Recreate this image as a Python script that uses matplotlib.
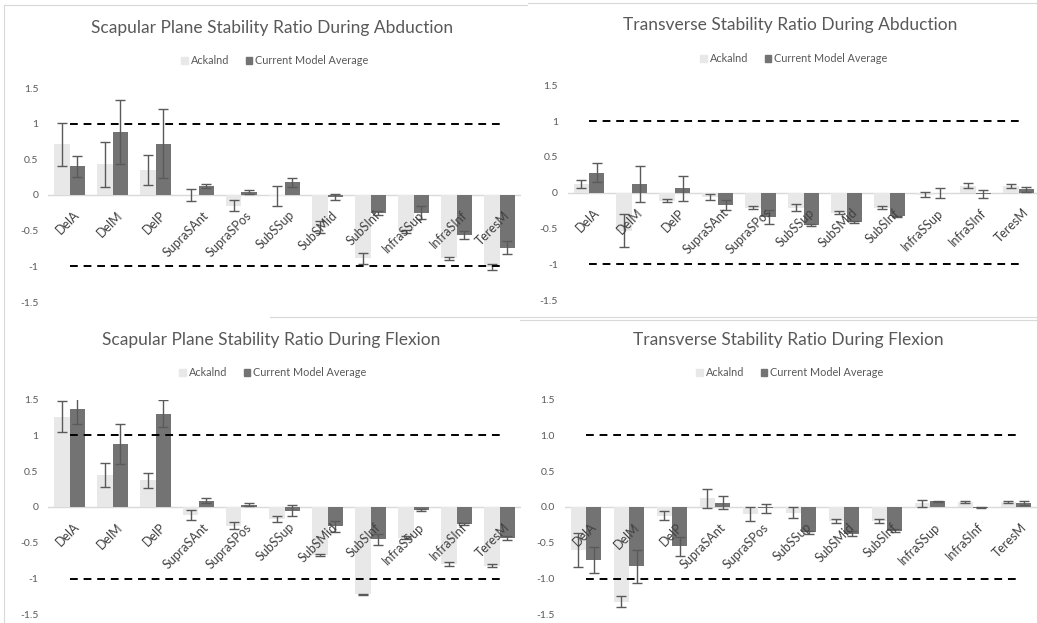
import matplotlib
matplotlib.use("Agg")
import matplotlib.pyplot as plt
from matplotlib.patches import Patch
from matplotlib.lines import Line2D
import numpy as np

plt.rcParams['font.family'] = ['Lato', 'DejaVu Sans']
plt.rcParams['axes.unicode_minus'] = False

muscles = ['DelA', 'DelM', 'DelP', 'SupraSAnt', 'SupraSPos', 'SubSSup',
           'SubSMid', 'SubSInf', 'InfraSSup', 'InfraSInf', 'TeresM']

# scapular plane, abduction
scap_abd_ack = [0.71, 0.43, 0.35, 0.0, -0.15, -0.02, -0.45, -0.89, -0.51, -0.89, -1.01]
scap_abd_ack_err = [0.30, 0.32, 0.21, 0.08, 0.075, 0.14, 0.08, 0.08, 0.02, 0.02, 0.04]
scap_abd_model = [0.40, 0.88, 0.72, 0.13, 0.04, 0.18, -0.03, -0.25, -0.25, -0.56, -0.74]
scap_abd_model_err = [0.15, 0.45, 0.48, 0.03, 0.03, 0.065, 0.04, 0.03, 0.09, 0.05, 0.09]

# transverse, abduction
trans_abd_ack = [0.12, -0.53, -0.11, -0.06, -0.21, -0.21, -0.28, -0.21, -0.03, 0.10, 0.09]
trans_abd_ack_err = [0.055, 0.23, 0.02, 0.04, 0.02, 0.05, 0.02, 0.02, 0.035, 0.03, 0.03]
trans_abd_model = [0.28, 0.12, 0.06, -0.17, -0.34, -0.45, -0.41, -0.33, -0.01, -0.02, 0.05]
trans_abd_model_err = [0.13, 0.25, 0.18, 0.07, 0.10, 0.01, 0.01, 0.01, 0.07, 0.06, 0.035]

# scapular plane, flexion
scap_flex_ack = [1.26, 0.45, 0.37, -0.11, -0.26, -0.17, -0.67, -1.22, -0.43, -0.80, -0.82]
scap_flex_ack_err = [0.22, 0.17, 0.10, 0.07, 0.05, 0.04, 0.02, 0.01, 0.02, 0.03, 0.02]
scap_flex_model = [1.37, 0.88, 1.30, 0.09, 0.03, -0.05, -0.27, -0.45, -0.04, -0.24, -0.43]
scap_flex_model_err = [0.21, 0.28, 0.19, 0.03, 0.02, 0.08, 0.08, 0.08, 0.01, 0.01, 0.03]

# transverse, flexion
trans_flex_ack = [-0.60, -1.32, -0.12, 0.12, -0.10, -0.08, -0.20, -0.20, 0.05, 0.07, 0.07]
trans_flex_ack_err = [0.24, 0.08, 0.06, 0.13, 0.10, 0.08, 0.03, 0.03, 0.05, 0.02, 0.02]
trans_flex_model = [-0.74, -0.83, -0.55, 0.06, -0.02, -0.35, -0.37, -0.33, 0.08, -0.01, 0.06]
trans_flex_model_err = [0.18, 0.23, 0.13, 0.09, 0.06, 0.02, 0.03, 0.02, 0.01, 0.005, 0.03]

limits = [1, -1]
ticks = [1.5, 1, 0.5, 0, -0.5, -1, -1.5]

ACK_COLOR = '#e8e8e8'
MODEL_COLOR = '#737373'
TEXT_COLOR = '#595959'

W, H = 1037, 623
fig = plt.figure(figsize=(W / 100, H / 100), dpi=100)
fig.patch.set_facecolor('white')


def fx(px):
    return px / W


def fy(py):
    return 1 - py / H


def draw_panel(rect, title, title_xy, legend_xy, ack, ack_err, model, model_err,
               tick_fmt):
    left, top, right, bottom = rect
    ax = fig.add_axes([fx(left), fy(bottom), fx(right - left), fy(top) - fy(bottom)])
    x = np.arange(len(muscles))
    width = 0.36
    err_kw = dict(ecolor='#5a5a5a', elinewidth=1.0, capsize=3.5, capthick=1.0)
    ax.bar(x - width / 2, ack, width, color=ACK_COLOR, yerr=ack_err,
           error_kw=err_kw, zorder=2)
    ax.bar(x + width / 2, model, width, color=MODEL_COLOR, yerr=model_err,
           error_kw=err_kw, zorder=2)
    for lim in limits:
        ax.plot([x[0], x[-1]], [lim, lim], color='black', lw=1.4,
                dashes=(4, 3), zorder=3)
    ax.axhline(0, color='#d9d9d9', lw=1.0, zorder=1)

    ax.set_xlim(-0.5, len(muscles) - 0.5)
    ax.set_ylim(-1.5, 1.5)
    ax.set_yticks(ticks)
    ax.set_yticklabels([tick_fmt(t) for t in ticks])
    ax.tick_params(axis='y', length=0, pad=7, labelsize=7.5, labelcolor=TEXT_COLOR)
    ax.set_xticks([])
    for s in ax.spines.values():
        s.set_visible(False)
    ax.patch.set_alpha(0)

    for i, name in enumerate(muscles):
        ax.annotate(name, xy=(i, 0), xytext=(3, -10), textcoords='offset points',
                    rotation=45, ha='right', va='top', rotation_mode='anchor',
                    fontsize=9, color='#404040', zorder=4)

    fig.text(fx(title_xy[0]), fy(title_xy[1]), title, ha='center', va='center',
             fontsize=12.5, color=TEXT_COLOR)
    handles = [Patch(color=ACK_COLOR, label='Ackalnd'),
               Patch(color=MODEL_COLOR, label='Current Model Average')]
    fig.legend(handles=handles, loc='center', ncol=2, frameon=False,
               bbox_to_anchor=(fx(legend_xy[0]), fy(legend_xy[1])),
               fontsize=7.8, labelcolor=TEXT_COLOR, handlelength=0.6,
               handleheight=0.6, handletextpad=0.3, columnspacing=1.5)


def plain(t):
    return ('%g' % t)


def one_dec(t):
    return '%.1f' % t


draw_panel((48, 88, 521, 302), 'Scapular Plane Stability Ratio During Abduction',
           (272, 28), (275, 61), scap_abd_ack, scap_abd_ack_err,
           scap_abd_model, scap_abd_model_err, plain)
draw_panel((567.5, 85.5, 1040, 300), 'Transverse Stability Ratio During Abduction',
           (790, 25), (794, 59), trans_abd_ack, trans_abd_ack_err,
           trans_abd_model, trans_abd_model_err, plain)
draw_panel((48, 399.5, 521, 614.5), 'Scapular Plane Stability Ratio During Flexion',
           (271, 340), (273, 373), scap_flex_ack, scap_flex_ack_err,
           scap_flex_model, scap_flex_model_err, plain)
draw_panel((564.5, 399.5, 1037.5, 614.5), 'Transverse Stability Ratio During Flexion',
           (788, 340), (790, 373), trans_flex_ack, trans_flex_ack_err,
           trans_flex_model, trans_flex_model_err, one_dec)

# thin panel borders
border = dict(color='#d9d9d9', lw=0.8)
for (x0, y0, x1, y1) in [(4, 5, 4, 623), (4, 5, 527, 5), (528, 3, 1037, 3),
                         (270, 317, 1037, 317), (520, 320, 1037, 320)]:
    fig.add_artist(Line2D([fx(x0), fx(x1)], [fy(y0), fy(y1)], **border))

fig.savefig('out.png', dpi=100, facecolor='white')
